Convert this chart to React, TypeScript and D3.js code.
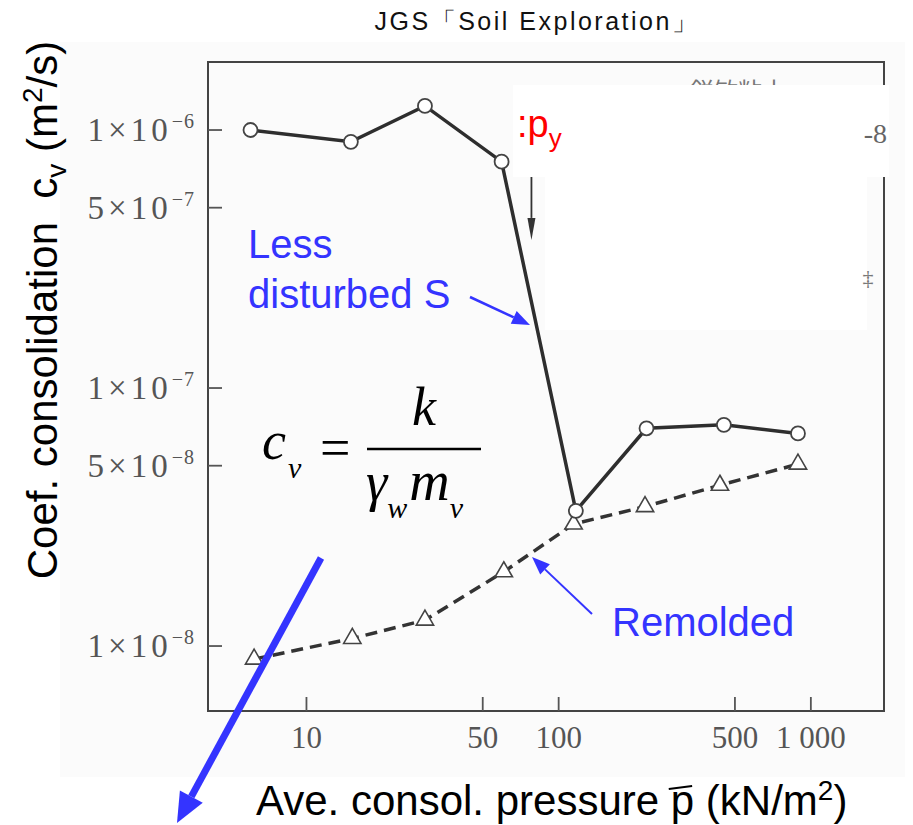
import React, { useEffect, useRef } from "react";
import * as d3 from "d3";

// values (p in kN/m2, cv in m2/s)
const pressureLessDisturbed = [6, 15, 29.5, 59.4, 117, 223, 452, 889];
const cvLessDisturbed = [1.0e-6, 9.0e-7, 1.24e-6, 7.54e-7, 3.34e-8, 6.98e-8, 7.2e-8, 6.67e-8];
const pressureRemolded = [6.2, 15.2, 29.5, 60.6, 114.6, 220, 436, 889];
const cvRemolded = [8.9e-9, 1.07e-8, 1.26e-8, 1.94e-8, 2.97e-8, 3.47e-8, 4.2e-8, 5.07e-8];

const xTickValues = [10, 50, 100, 500, 1000];
const xTickLabels = ["10", "50", "100", "500", "1 000"];
const yTickValues = [1e-6, 5e-7, 1e-7, 5e-8, 1e-8];
const yTickMantissa = ["1", "5", "1", "5", "1"];
const yTickExponent = ["−6", "−7", "−7", "−8", "−8"];

const yieldPressure = 78;
const yieldArrowCv = [6.6e-7, 3.75e-7];

const SANS = "'Liberation Sans', Arial, sans-serif";
const SERIF = "'Liberation Serif', 'Times New Roman', serif";
const BLUE = "#3434ff";

const drawArrow = (g, x1, y1, x2, y2, color, w, headLen, headW) => {
    const a = Math.atan2(y2 - y1, x2 - x1);
    const bx = x2 - headLen * Math.cos(a);
    const by = y2 - headLen * Math.sin(a);
    g.append("line")
        .attr("x1", x1).attr("y1", y1)
        .attr("x2", bx).attr("y2", by)
        .attr("stroke", color)
        .attr("stroke-width", w);
    const px = -Math.sin(a) * headW / 2;
    const py = Math.cos(a) * headW / 2;
    g.append("path")
        .attr("d", `M${x2},${y2}L${bx + px},${by + py}L${bx - px},${by - py}Z`)
        .attr("fill", color);
};

export default function App() {
    const svgRef = useRef(null);

    useEffect(() => {
        const svg = d3.select(svgRef.current);
        svg.selectAll("*").remove();

        const plot = { left: 208, right: 884, top: 62, bottom: 711 };

        const x = d3.scaleLog().domain([4.07, 1950]).range([plot.left, plot.right]);
        const y = d3.scaleLog().domain([5.6e-9, 1.835e-6]).range([plot.bottom, plot.top]);

        // faint scan background
        svg.append("rect")
            .attr("x", 60).attr("y", 42).attr("width", 845).attr("height", 735)
            .attr("fill", "#fbfbfb");

        // frame
        svg.append("rect")
            .attr("x", plot.left).attr("y", plot.top)
            .attr("width", plot.right - plot.left)
            .attr("height", plot.bottom - plot.top)
            .attr("fill", "none")
            .attr("stroke", "#444")
            .attr("stroke-width", 2);

        // y ticks
        svg.selectAll(".ytick")
            .data(yTickValues)
            .enter()
            .append("line")
            .attr("x1", plot.left).attr("x2", plot.left + 14)
            .attr("y1", d => y(d)).attr("y2", d => y(d))
            .attr("stroke", "#555").attr("stroke-width", 1.8);

        const yLabels = svg.selectAll(".ylab")
            .data(yTickValues)
            .enter()
            .append("text")
            .attr("x", 195)
            .attr("y", d => y(d) + 11)
            .attr("text-anchor", "end")
            .style("font-family", SERIF)
            .style("font-size", "33px")
            .style("letter-spacing", "4px")
            .style("fill", "#555");
        yLabels.append("tspan").text((d, i) => `${yTickMantissa[i]}×10`);
        yLabels.append("tspan")
            .attr("dy", -13)
            .style("font-size", "20px")
            .style("letter-spacing", "1px")
            .text((d, i) => yTickExponent[i]);

        // x ticks
        svg.selectAll(".xtick")
            .data(xTickValues)
            .enter()
            .append("line")
            .attr("x1", d => x(d)).attr("x2", d => x(d))
            .attr("y1", plot.bottom).attr("y2", plot.bottom - 14)
            .attr("stroke", "#555").attr("stroke-width", 1.8);

        svg.selectAll(".xlab")
            .data(xTickValues)
            .enter()
            .append("text")
            .attr("x", d => x(d))
            .attr("y", 748)
            .attr("text-anchor", "middle")
            .style("font-family", SERIF)
            .style("font-size", "31px")
            .style("fill", "#555")
            .style("white-space", "pre")
            .text((d, i) => xTickLabels[i]);

        const remolded = pressureRemolded.map((p, i) => [p, cvRemolded[i]]);
        const lessDist = pressureLessDisturbed.map((p, i) => [p, cvLessDisturbed[i]]);
        const line = d3.line().x(d => x(d[0])).y(d => y(d[1]));

        // remolded (dashed, triangles)
        svg.append("path")
            .attr("d", line(remolded))
            .attr("fill", "none")
            .attr("stroke", "#333")
            .attr("stroke-width", 3.5)
            .attr("stroke-dasharray", "12 7");

        // less disturbed (solid, circles)
        svg.append("path")
            .attr("d", line(lessDist))
            .attr("fill", "none")
            .attr("stroke", "#2e2e2e")
            .attr("stroke-width", 3.5);

        svg.selectAll(".tri")
            .data(remolded)
            .enter()
            .append("path")
            .attr("d", d3.symbol().type(d3.symbolTriangle).size(130)())
            .attr("transform", d => `translate(${x(d[0])},${y(d[1])})`)
            .attr("fill", "#fff")
            .attr("stroke", "#444")
            .attr("stroke-width", 1.6);

        svg.selectAll(".circ")
            .data(lessDist)
            .enter()
            .append("circle")
            .attr("cx", d => x(d[0]))
            .attr("cy", d => y(d[1]))
            .attr("r", 7)
            .attr("fill", "#fff")
            .attr("stroke", "#444")
            .attr("stroke-width", 1.8);

        // yield pressure arrow
        drawArrow(svg, x(yieldPressure), y(yieldArrowCv[0]), x(yieldPressure), y(yieldArrowCv[1]), "#333", 1.8, 22, 8);

        // scan text partly hidden under the slide overlay
        svg.append("text")
            .attr("x", 690).attr("y", 100)
            .style("font-family", "'Noto Sans CJK JP', serif")
            .style("font-size", "24px")
            .style("fill", "#777")
            .text("鋭敏粘土");

        // white overlay boxes from the slide
        svg.append("rect")
            .attr("x", 513).attr("y", 85).attr("width", 376).attr("height", 92)
            .attr("fill", "#fff");
        svg.append("rect")
            .attr("x", 545).attr("y", 177).attr("width", 322).attr("height", 153)
            .attr("fill", "#fff");

        svg.append("text")
            .attr("x", 887).attr("y", 143)
            .attr("text-anchor", "end")
            .style("font-family", SERIF)
            .style("font-size", "28px")
            .style("fill", "#666")
            .text("-8");
        svg.append("text")
            .attr("x", 868).attr("y", 285)
            .attr("text-anchor", "middle")
            .style("font-family", SERIF)
            .style("font-size", "22px")
            .style("fill", "#777")
            .text("‡");

        // py label
        const py = svg.append("text")
            .attr("x", 517).attr("y", 137)
            .style("font-family", SANS)
            .style("font-size", "38px")
            .style("fill", "#ff0000");
        py.append("tspan").text(":p");
        py.append("tspan").attr("dy", 10).style("font-size", "26px").text("y");

        // title
        svg.append("text")
            .attr("x", 537).attr("y", 30)
            .attr("text-anchor", "middle")
            .style("font-family", SANS)
            .style("font-size", "25px")
            .style("letter-spacing", "2.5px")
            .style("fill", "#111")
            .text("JGS「Soil Exploration」");

        // y-axis title
        const yl = svg.append("text")
            .attr("transform", "translate(57,310) rotate(-90)")
            .attr("text-anchor", "middle")
            .style("font-family", SANS)
            .style("font-size", "42px")
            .style("white-space", "pre")
            .style("fill", "#000");
        yl.append("tspan").text("Coef. consolidation  c");
        yl.append("tspan").attr("dy", 9).style("font-size", "28px").text("v");
        yl.append("tspan").attr("dy", -9).text(" (m");
        yl.append("tspan").attr("dy", -15).style("font-size", "28px").text("2");
        yl.append("tspan").attr("dy", 15).text("/s)");

        // x-axis title
        const xlPrefix = "Ave. consol. pressure ";
        const xl = svg.append("text")
            .attr("x", 256).attr("y", 815)
            .style("font-family", SANS)
            .style("font-size", "42px")
            .style("white-space", "pre")
            .style("fill", "#000");
        xl.append("tspan").text(xlPrefix);
        xl.append("tspan").text("p");
        xl.append("tspan").text(" (kN/m");
        xl.append("tspan").attr("dy", -15).style("font-size", "28px").text("2");
        xl.append("tspan").attr("dy", 15).text(")");
        const ext = xl.node().getExtentOfChar(xlPrefix.length);
        svg.append("line")
            .attr("x1", ext.x - 2).attr("y1", 789)
            .attr("x2", ext.x + ext.width - 2).attr("y2", 786)
            .attr("stroke", "#000").attr("stroke-width", 2);

        // annotations
        const less = svg.append("text")
            .style("font-family", SANS)
            .style("font-size", "40px")
            .style("fill", BLUE);
        less.append("tspan").attr("x", 248).attr("y", 258).text("Less");
        less.append("tspan").attr("x", 248).attr("y", 308).text("disturbed S");
        drawArrow(svg, 470, 297, 530, 325, BLUE, 2.5, 18, 14);

        svg.append("text")
            .attr("x", 612).attr("y", 636)
            .style("font-family", SANS)
            .style("font-size", "40px")
            .style("fill", BLUE)
            .text("Remolded");
        drawArrow(svg, 592, 614, 532, 557, BLUE, 2, 18, 14);

        drawArrow(svg, 321, 558, 177, 823, BLUE, 7, 30, 26);

        // formula cv = k / (gamma_w m_v)
        const f = svg.append("g")
            .style("font-family", SERIF)
            .style("font-style", "italic")
            .style("fill", "#000");
        const lhs = f.append("text").attr("x", 262).attr("y", 459).style("font-size", "54px");
        lhs.append("tspan").text("c");
        lhs.append("tspan").attr("dx", 2).attr("dy", 19).style("font-size", "30px").text("v");
        f.append("text").attr("x", 320).attr("y", 466).style("font-size", "54px").style("font-style", "normal").text("=");
        f.append("line")
            .attr("x1", 367).attr("x2", 481)
            .attr("y1", 449).attr("y2", 449)
            .attr("stroke", "#000").attr("stroke-width", 2.5);
        f.append("text").attr("x", 424).attr("y", 425).attr("text-anchor", "middle").style("font-size", "54px").text("k");
        const den = f.append("text").attr("x", 366).attr("y", 500).style("font-size", "54px");
        den.append("tspan").text("γ");
        den.append("tspan").attr("dx", 0).attr("dy", 18).style("font-size", "30px").text("w");
        den.append("tspan").attr("dx", 2).attr("dy", -18).style("font-size", "56px").text("m");
        den.append("tspan").attr("dx", 0).attr("dy", 18).style("font-size", "30px").text("v");
    }, []);

    return (
        <svg
            ref={svgRef}
            width={913}
            height={825}
            style={{ position: "absolute", left: 0, top: 0, background: "#fff", display: "block" }}
        ></svg>
    );
}
